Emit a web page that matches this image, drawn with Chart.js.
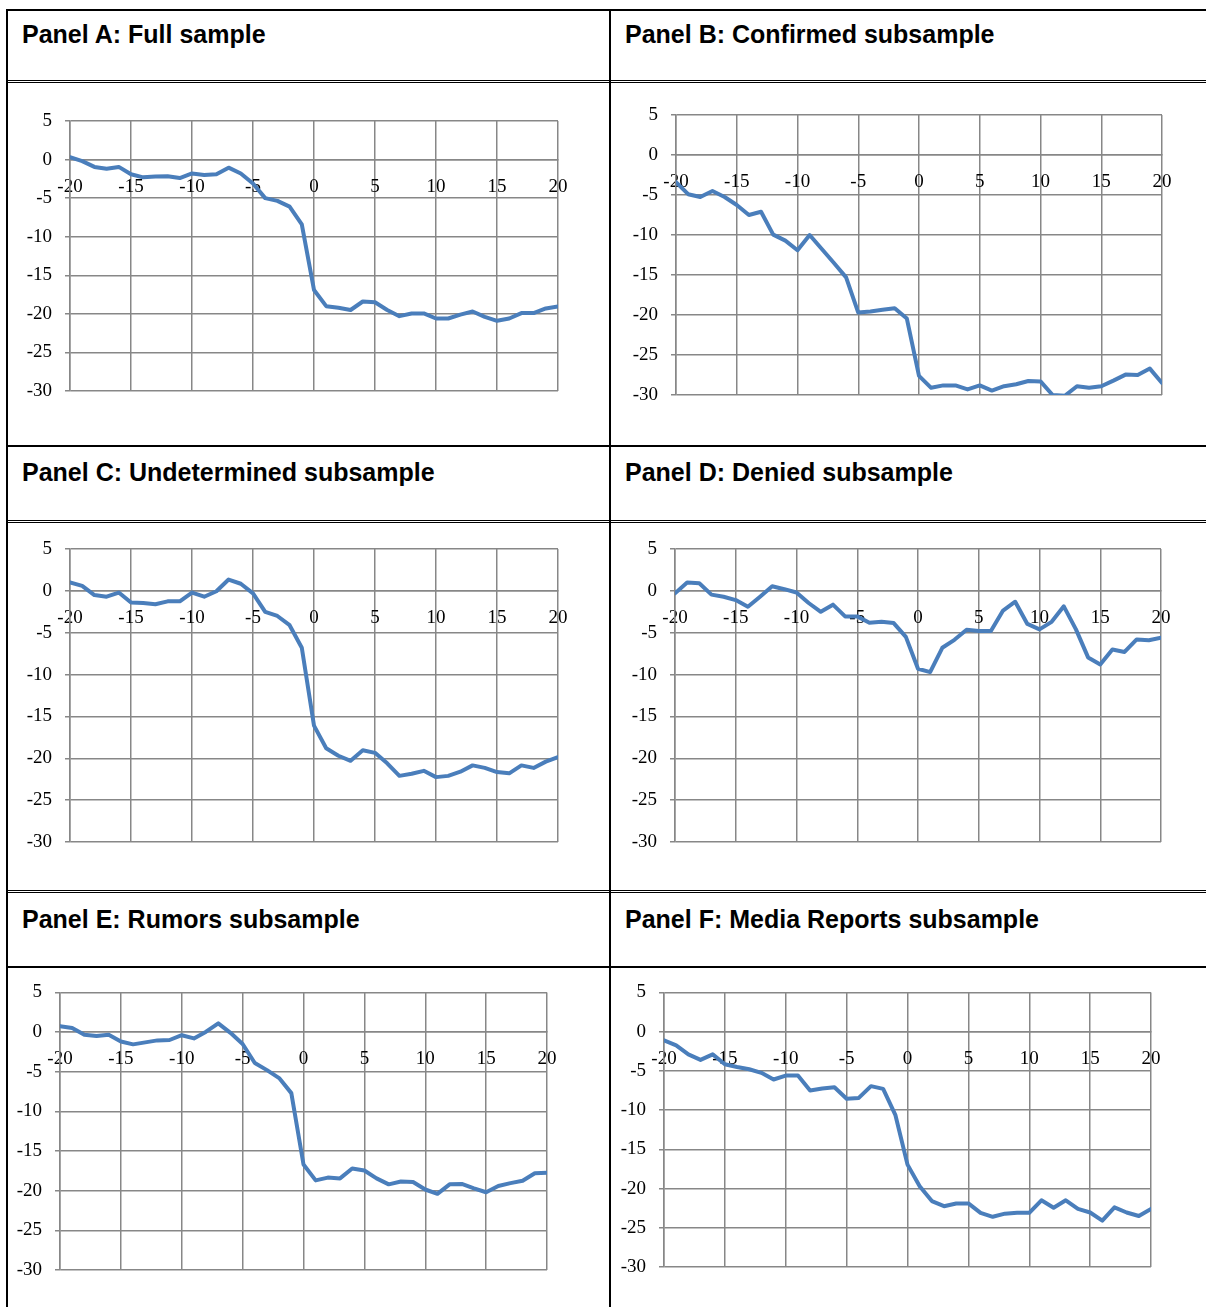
<!DOCTYPE html>
<html>
<head>
<meta charset="utf-8">
<title>Cumulative returns around the event day</title>
<script src="https://cdn.jsdelivr.net/npm/chart.js@4/dist/chart.umd.min.js"></script>
<style>
  html, body { margin: 0; padding: 0; background: #fff; }
  body { width: 1206px; height: 1307px; position: relative; overflow: hidden; }
  .rule { position: absolute; background: #000; }
  .title {
    position: absolute;
    font-family: 'Liberation Sans', Arial, Helvetica, sans-serif;
    font-weight: bold;
    font-size: 25px;
    line-height: 25px;
    color: #000;
    white-space: nowrap;
  }
  .cell { position: absolute; }
  .cell canvas { display: block; }
</style>
</head>
<body>

<script>
// Event days on the horizontal axis
const days = [-20, -19, -18, -17, -16, -15, -14, -13, -12, -11, -10, -9, -8, -7, -6, -5, -4, -3, -2, -1,
              0, 1, 2, 3, 4, 5, 6, 7, 8, 9, 10, 11, 12, 13, 14, 15, 16, 17, 18, 19, 20];

// Tick labels
const xTicks = [-20, -15, -10, -5, 0, 5, 10, 15, 20];
const yTicks = [5, 0, -5, -10, -15, -20, -25, -30];

// Panel titles
const panelTitles = [
  'Panel A: Full sample',
  'Panel B: Confirmed subsample',
  'Panel C: Undetermined subsample',
  'Panel D: Denied subsample',
  'Panel E: Rumors subsample',
  'Panel F: Media Reports subsample'
];

// Series, one value per event day
const fullSample = [0.3, -0.2, -0.95, -1.2, -0.95, -1.9, -2.3, -2.2, -2.15, -2.4,
  -1.8, -2.0, -1.9, -1.05, -1.8, -3.1, -5.0, -5.35, -6.1, -8.4,
  -16.9, -19.0, -19.2, -19.5, -18.4, -18.5, -19.5, -20.3, -19.95, -19.95,
  -20.6, -20.6, -20.1, -19.7, -20.4, -20.9, -20.6, -19.9, -19.9, -19.3, -19.05];

const confirmed = [-3.4, -4.9, -5.25, -4.5, -5.25, -6.25, -7.5, -7.1, -9.95, -10.7,
  -11.9, -10.0, -11.75, -13.5, -15.3, -19.7, -19.55, -19.35, -19.15, -20.45,
  -27.6, -29.1, -28.8, -28.8, -29.3, -28.8, -29.45, -28.9, -28.65, -28.25,
  -28.3, -30.0, -30.1, -28.9, -29.1, -28.9, -28.2, -27.45, -27.5, -26.7, -28.5];

const undetermined = [1.0, 0.6, -0.5, -0.7, -0.2, -1.4, -1.45, -1.6, -1.25, -1.25,
  -0.2, -0.7, -0.05, 1.35, 0.85, -0.3, -2.5, -3.0, -4.1, -6.8,
  -16.1, -18.8, -19.7, -20.3, -19.05, -19.35, -20.6, -22.1, -21.85, -21.5,
  -22.25, -22.1, -21.6, -20.85, -21.15, -21.65, -21.8, -20.85, -21.15, -20.4, -19.85];

const denied = [-0.3, 1.0, 0.9, -0.45, -0.7, -1.1, -1.9, -0.7, 0.55, 0.2,
  -0.2, -1.45, -2.5, -1.65, -3.05, -3.05, -3.8, -3.7, -3.85, -5.5,
  -9.3, -9.7, -6.8, -5.85, -4.65, -4.8, -4.8, -2.35, -1.3, -3.95,
  -4.6, -3.7, -1.85, -4.6, -7.95, -8.8, -7.0, -7.3, -5.8, -5.9, -5.6];

const rumors = [0.75, 0.5, -0.35, -0.5, -0.35, -1.2, -1.55, -1.3, -1.05, -1.0,
  -0.4, -0.8, 0.05, 1.1, -0.1, -1.5, -3.9, -4.8, -5.8, -7.7,
  -16.7, -18.7, -18.35, -18.45, -17.2, -17.45, -18.45, -19.2, -18.85, -18.9,
  -19.85, -20.4, -19.2, -19.15, -19.7, -20.2, -19.4, -19.05, -18.75, -17.8, -17.75];

const mediaReports = [-1.1, -1.75, -2.9, -3.6, -2.9, -4.15, -4.5, -4.8, -5.25, -6.1,
  -5.6, -5.6, -7.5, -7.25, -7.1, -8.55, -8.45, -6.95, -7.3, -10.6,
  -16.95, -19.7, -21.6, -22.25, -21.9, -21.9, -23.1, -23.6, -23.2, -23.1,
  -23.1, -21.5, -22.45, -21.5, -22.6, -23.05, -24.1, -22.4, -23.05, -23.5, -22.6];

// Table rules: [left, top, width, height]
const rules = [
  [6, 9, 1200, 2],      // top edge
  [6, 9, 2, 1298],      // left edge
  [609, 9, 2, 1298],    // column divider
  [6, 80, 1200, 1], [6, 82, 1200, 1],     // under first title row
  [6, 445, 1200, 2],                      // under first chart row
  [6, 520, 1200, 1], [6, 522, 1200, 1],   // under second title row
  [6, 890, 1200, 1], [6, 892, 1200, 1],   // under second chart row
  [6, 966, 1200, 2]                       // under third title row
];

// Title positions: [left, top]
const titlePos = [[22, 22], [625, 22], [22, 460], [625, 460], [22, 907], [625, 907]];

// Chart cells: canvas box and plot-area padding
const cells = [
  { series: fullSample,   left: 8,   top: 83,  w: 601, h: 362, yw: 62, pt: 38, pr: 51, pb: 54 },
  { series: confirmed,    left: 611, top: 83,  w: 595, h: 362, yw: 65, pt: 32, pr: 44, pb: 50 },
  { series: undetermined, left: 8,   top: 523, w: 601, h: 367, yw: 62, pt: 26, pr: 51, pb: 48 },
  { series: denied,       left: 611, top: 523, w: 595, h: 367, yw: 64, pt: 26, pr: 45, pb: 48 },
  { series: rumors,       left: 8,   top: 968, w: 601, h: 339, yw: 52, pt: 17, pr: 62, pb: 37 },
  { series: mediaReports, left: 611, top: 968, w: 595, h: 339, yw: 53, pt: 19, pr: 55, pb: 40 }
];

const GRID = '#878787';
const LINE = '#4a7ebb';
const tickFont = { family: "'Liberation Serif', 'Times New Roman', serif", size: 19 };

rules.forEach(([l, t, w, h]) => {
  const d = document.createElement('div');
  d.className = 'rule';
  d.style.cssText = `left:${l}px;top:${t}px;width:${w}px;height:${h}px;`;
  document.body.appendChild(d);
});

panelTitles.forEach((text, i) => {
  const d = document.createElement('div');
  d.className = 'title';
  d.textContent = text;
  d.style.left = titlePos[i][0] + 'px';
  d.style.top = titlePos[i][1] + 'px';
  document.body.appendChild(d);
});

cells.forEach(c => {
  const box = document.createElement('div');
  box.className = 'cell';
  box.style.cssText = `left:${c.left}px;top:${c.top}px;width:${c.w}px;height:${c.h}px;`;
  const cv = document.createElement('canvas');
  cv.width = c.w; cv.height = c.h;
  cv.style.width = c.w + 'px'; cv.style.height = c.h + 'px';
  box.appendChild(cv);
  document.body.appendChild(box);

  new Chart(cv, {
    type: 'line',
    data: {
      datasets: [{
        data: days.map((d, i) => ({ x: d, y: c.series[i] })),
        borderColor: LINE,
        borderWidth: 4,
        pointRadius: 0,
        tension: 0,
        borderJoinStyle: 'round',
        borderCapStyle: 'round',
        fill: false
      }]
    },
    options: {
      responsive: false,
      animation: false,
      events: [],
      layout: { padding: { left: 0, top: c.pt, right: c.pr, bottom: c.pb } },
      plugins: { legend: { display: false }, tooltip: { enabled: false } },
      scales: {
        x: {
          type: 'linear',
          min: -20, max: 20,
          position: { y: 0 },
          afterBuildTicks: s => { s.ticks = xTicks.map(v => ({ value: v })); },
          ticks: { font: tickFont, color: '#000', padding: 16, maxRotation: 0, autoSkip: false },
          grid: { color: GRID, lineWidth: 1.5, drawTicks: false, tickLength: 0 },
          border: { display: true, color: GRID, width: 1.5 }
        },
        y: {
          type: 'linear',
          min: -30, max: 5,
          afterBuildTicks: s => { s.ticks = yTicks.map(v => ({ value: v })); },
          afterFit: s => { s.width = c.yw; },
          ticks: { font: tickFont, color: '#000', padding: 13 },
          grid: { color: GRID, lineWidth: 1.5, tickLength: 5 },
          border: { display: true, color: GRID, width: 1.5 }
        }
      }
    }
  });
});
</script>
</body>
</html>
